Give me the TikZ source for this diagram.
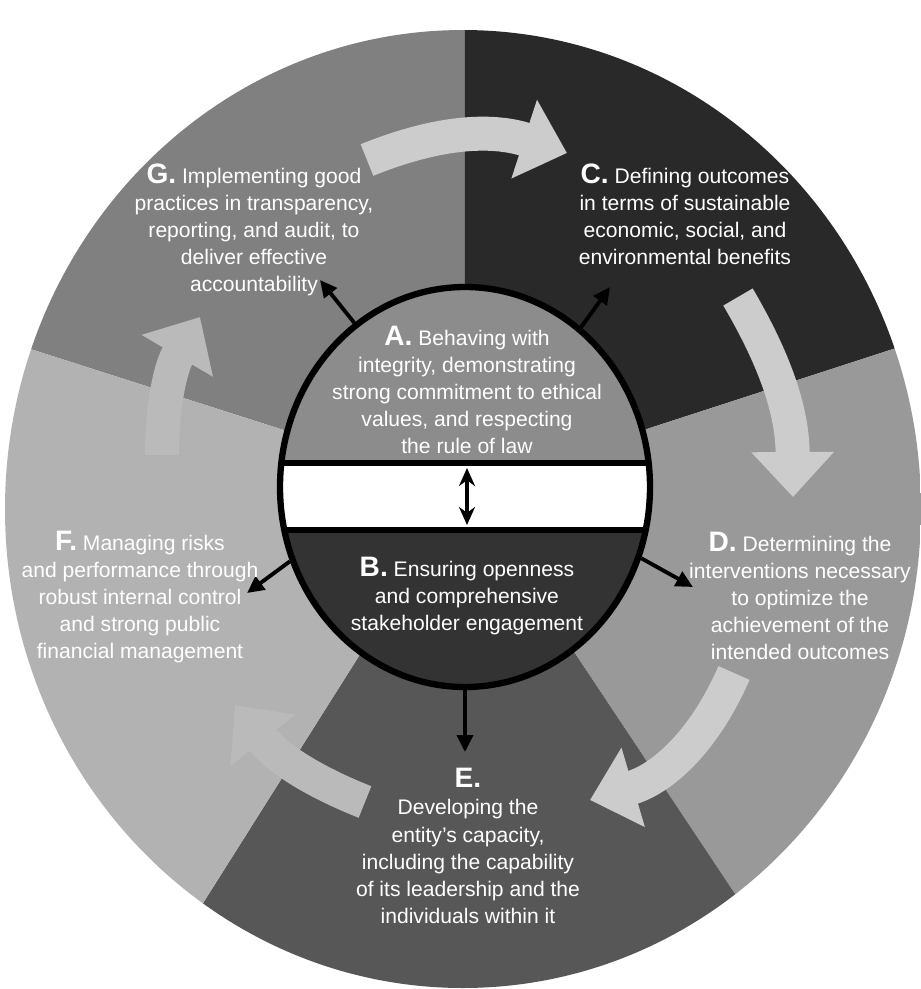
\documentclass[tikz,border=0pt]{standalone}
\usepackage{fontspec}
\setmainfont{Liberation Sans}
\usetikzlibrary{arrows.meta, shapes.geometric, positioning}
\definecolor{secG}{gray}{0.50}
\definecolor{secC}{gray}{0.16}
\definecolor{secD}{gray}{0.60}
\definecolor{secE}{gray}{0.34}
\definecolor{secF}{gray}{0.70}
\definecolor{partA}{gray}{0.55}
\definecolor{partB}{gray}{0.20}
\definecolor{flow}{gray}{0.80}
\definecolor{flowF}{gray}{0.73}
\newcommand{\keyletter}[1]{{\bfseries\fontsize{8}{7.7}\selectfont #1.}}

\begin{document}
\begin{tikzpicture}[
    blurb/.style={text=white, align=center, font=\fontsize{6}{7.7}\selectfont, inner sep=0pt},
    spoke/.style={line width=1.1pt, -{Triangle[length=1.7mm,width=1.6mm]}},
    flowarrow/.style={line width=3.4mm, -{Triangle[length=4.5mm,width=8mm]}, bend left=#1}
  ]
  \useasboundingbox (0,0) rectangle (9.21,-9.89);
  \coordinate (hub) at (4.65,-4.88);
  \coordinate (mid) at (4.65,-4.87);
  % outer ring, five sectors
  \begin{scope}
    \clip (4.63,-5.09) ellipse (4.58 and 4.79);
    \fill[secG] (hub) -- (4.65,1) -- (-3,1) -- (-2.26,-2.67) -- cycle;
    \fill[secC] (hub) -- (4.65,1) -- (12,1) -- (11.61,-2.62) -- cycle;
    \fill[secD] (hub) -- (11.61,-2.62) -- (12,-12) -- (9.00,-11.42) -- cycle;
    \fill[secE] (hub) -- (9.00,-11.42) -- (0.46,-11.52) -- cycle;
    \fill[secF] (hub) -- (0.46,-11.52) -- (-3,-12) -- (-2.26,-2.67) -- cycle;
  \end{scope}
  % cycle arrows
  \coordinate (f1s) at (3.67,-1.60); \coordinate (f1e) at (5.67,-1.53);
  \coordinate (f2s) at (7.38,-2.97); \coordinate (f2e) at (7.93,-4.97);
  \coordinate (f3s) at (7.34,-6.73); \coordinate (f3e) at (5.90,-8.00);
  \coordinate (f4s) at (3.65,-8.02); \coordinate (f4e) at (2.35,-7.05);
  \coordinate (f5s) at (1.62,-4.55); \coordinate (f5e) at (2.00,-3.17);
  \foreach \s/\e/\b/\c in {f1s/f1e/20/flow, f2s/f2e/15/flow, f3s/f3e/25/flow, f4s/f4e/15/flowF, f5s/f5e/15/flowF}
    \draw[flowarrow=\b, draw=\c] (\s) to (\e);
  % inner disc
  \begin{scope}
    \clip (mid) ellipse (1.85 and 2.0);
    \fill[partA] (2.5,-2.5) rectangle (7,-4.62);
    \fill[white] (2.5,-4.62) rectangle (7,-5.30);
    \fill[partB] (2.5,-5.30) rectangle (7,-7.2);
    \draw[line width=1.7pt] (2.5,-4.625) -- (7,-4.625);
    \draw[line width=1.7pt] (2.5,-5.295) -- (7,-5.295);
  \end{scope}
  \node[ellipse, draw, line width=1.8pt, minimum width=3.7cm, minimum height=4cm, inner sep=0pt] (core) at (mid) {};
  \coordinate (bandtop) at (4.67,-4.68);
  \coordinate (bandbot) at (4.67,-5.25);
  \draw[line width=1.3pt, {Stealth[length=1.8mm,width=1.6mm]}-{Stealth[length=1.8mm,width=1.6mm]}] (bandtop) -- (bandbot);
  % spokes
  \coordinate (tipG) at (3.20,-2.80);
  \coordinate (tipC) at (6.10,-2.87);
  \coordinate (tipD) at (6.93,-5.87);
  \coordinate (tipE) at (4.65,-7.52);
  \coordinate (tipF) at (2.47,-5.93);
  \foreach \ang/\tip in {124/tipG, 54.5/tipC, -22.5/tipD, -90/tipE, 203/tipF}
    \draw[spoke] (core.\ang) -- (\tip);
  % texts
  \node[blurb] (textG) at (2.54,-2.30) {\keyletter{G} Implementing good\\practices in transparency,\\reporting, and audit, to\\deliver effective\\accountability};
  \node[blurb] (textC) at (6.85,-2.14) {\keyletter{C} Defining outcomes\\in terms of sustainable\\economic, social, and\\environmental benefits};
  \node[blurb] (textA) at (4.67,-3.90) {\keyletter{A} Behaving with\\integrity, demonstrating\\strong commitment to ethical\\values, and respecting\\the rule of law};
  \node[blurb] (textB) at (4.67,-5.96) {\keyletter{B} Ensuring openness\\and comprehensive\\stakeholder engagement};
  \node[blurb] (textD) at (8.00,-5.96) {\keyletter{D} Determining the\\interventions necessary\\to optimize the\\achievement of the\\intended outcomes};
  \node[blurb] (textE) at (4.68,-8.46) {\keyletter{E}\\Developing the\\entity's capacity,\\including the capability\\of its leadership and the\\individuals within it};
  \node[blurb] (textF) at (1.40,-5.97) {\keyletter{F} Managing risks\\and performance through\\robust internal control\\and strong public\\financial management};
\end{tikzpicture}
\end{document}
